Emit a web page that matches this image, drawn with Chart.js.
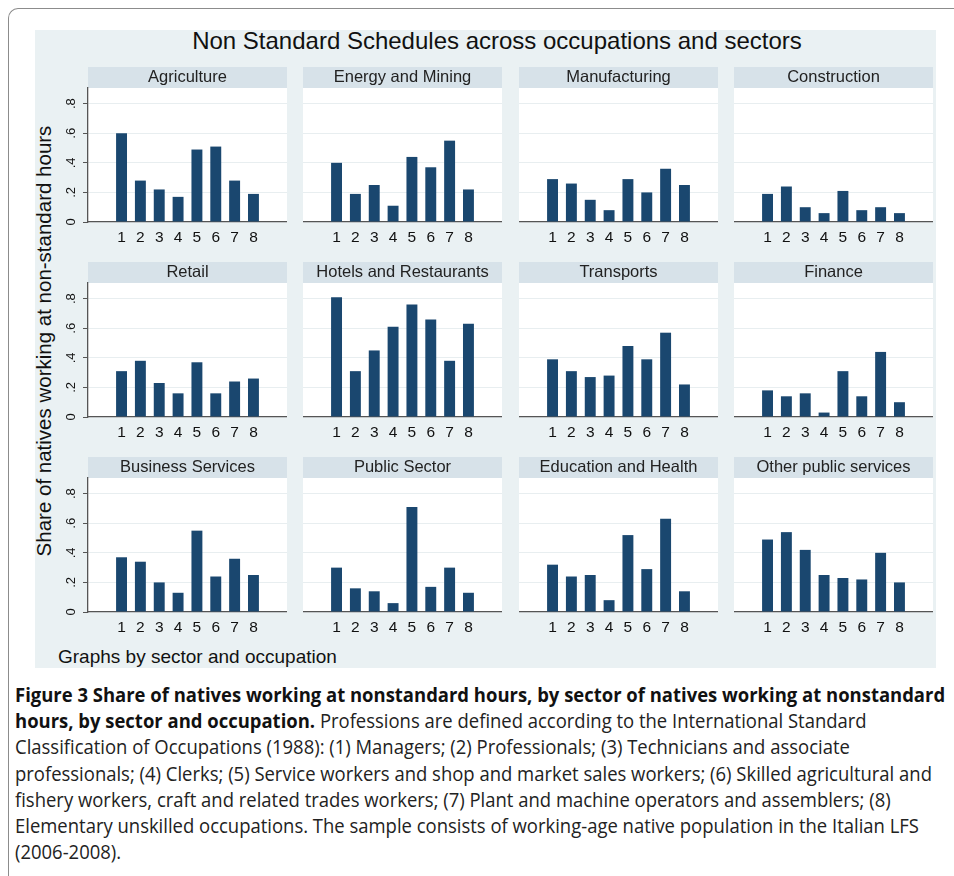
<!DOCTYPE html>
<html>
<head>
<meta charset="utf-8">
<script src="https://cdn.jsdelivr.net/npm/chart.js@4.4.1/dist/chart.umd.min.js"></script>
<style>
  body { margin: 0; background: #fff; width: 954px; height: 876px; position: relative; overflow: hidden;
         font-family: "Liberation Sans", Arial, sans-serif; }
  #frame { position: absolute; left: 8px; top: 8px; width: 960px; height: 880px;
           border-left: 1.5px solid #8c8c8c; border-top: 1.5px solid #8c8c8c; border-top-left-radius: 10px; }
  #graph { position: absolute; left: 35px; top: 30px; width: 901px; height: 638px; background: #eaf1f3; }
  #title { position: absolute; left: 0; width: 994px; top: 27px; text-align: center; font-size: 24px; line-height: 28px; color: #111; }
  #ytitle { position: absolute; left: -206px; width: 500px; top: 329px; text-align: center; font-size: 20.5px; line-height: 24px;
            color: #111; transform: rotate(-90deg); }
  #note { position: absolute; left: 58px; top: 646px; font-size: 19px; line-height: 22px; color: #111; }
  #caption { position: absolute; left: 15px; top: 682px; font-family: "Open Sans", sans-serif;
             font-size: 20px; line-height: 26.2px; color: #222; white-space: nowrap;
             transform: scaleX(0.923); transform-origin: 0 0; }
  #caption b { color: #111; }
  .panel { position: absolute; height: 181px; }
</style>
</head>
<body>
<div id="frame"></div>
<div id="graph"></div>
<div id="title">Non Standard Schedules across occupations and sectors</div>
<div id="ytitle">Share of natives working at non-standard hours</div>
<div id="note">Graphs by sector and occupation</div>
<div id="caption">
<b>Figure 3 Share of natives working at nonstandard hours, by sector of natives working at nonstandard</b><br>
<b>hours, by sector and occupation.</b> Professions are defined according to the International Standard<br>
Classification of Occupations (1988): (1) Managers; (2) Professionals; (3) Technicians and associate<br>
professionals; (4) Clerks; (5) Service workers and shop and market sales workers; (6) Skilled agricultural and<br>
fishery workers, craft and related trades workers; (7) Plant and machine operators and assemblers; (8)<br>
Elementary unskilled occupations. The sample consists of working-age native population in the Italian LFS<br>
(2006-2008).
</div>
<script>
// occupation codes on the x axis and y tick labels (Stata style)
const occupations = [1, 2, 3, 4, 5, 6, 7, 8];
const yTicks = [0, 0.2, 0.4, 0.6, 0.8];
const yTickLabels = ['0', '.2', '.4', '.6', '.8'];

const sectors = ['Agriculture', 'Energy and Mining', 'Manufacturing', 'Construction',
                 'Retail', 'Hotels and Restaurants', 'Transports', 'Finance',
                 'Business Services', 'Public Sector', 'Education and Health', 'Other public services'];

// share of natives working at non-standard hours, occupations 1..8
const agriculture   = [0.60, 0.28, 0.22, 0.17, 0.49, 0.51, 0.28, 0.19];
const energyMining  = [0.40, 0.19, 0.25, 0.11, 0.44, 0.37, 0.55, 0.22];
const manufacturing = [0.29, 0.26, 0.15, 0.08, 0.29, 0.20, 0.36, 0.25];
const construction  = [0.19, 0.24, 0.10, 0.06, 0.21, 0.08, 0.10, 0.06];
const retail        = [0.31, 0.38, 0.23, 0.16, 0.37, 0.16, 0.24, 0.26];
const hotels        = [0.81, 0.31, 0.45, 0.61, 0.76, 0.66, 0.38, 0.63];
const transports    = [0.39, 0.31, 0.27, 0.28, 0.48, 0.39, 0.57, 0.22];
const finance       = [0.18, 0.14, 0.16, 0.03, 0.31, 0.14, 0.44, 0.10];
const business      = [0.37, 0.34, 0.20, 0.13, 0.55, 0.24, 0.36, 0.25];
const publicSector  = [0.30, 0.16, 0.14, 0.06, 0.71, 0.17, 0.30, 0.13];
const eduHealth     = [0.32, 0.24, 0.25, 0.08, 0.52, 0.29, 0.63, 0.14];
const otherPublic   = [0.49, 0.54, 0.42, 0.25, 0.23, 0.22, 0.40, 0.20];

const sectorValues = [agriculture, energyMining, manufacturing, construction,
                      retail, hotels, transports, finance,
                      business, publicSector, eduHealth, otherPublic];

const font = 'Liberation Sans, Arial, sans-serif';

// white plot region and the grey strip behind each panel title
const panelBackground = {
    id: 'panelBackground',
    beforeDraw(chart) {
        const a = chart.chartArea;
        const ctx = chart.ctx;
        ctx.save();
        ctx.fillStyle = '#ffffff';
        ctx.fillRect(a.left, a.top, a.right - a.left, a.bottom - a.top);
        ctx.fillStyle = '#d7e2e9';
        ctx.fillRect(a.left, 0, a.right - a.left, a.top);
        ctx.restore();
    }
};

sectors.forEach(function (name, i) {
    const col = i % 4;
    const row = Math.floor(i / 4);
    const first = col === 0;
    const yw = first ? 40 : 0;

    const box = document.createElement('div');
    box.className = 'panel';
    box.style.left = (88 + col * 215.3 - yw) + 'px';
    box.style.top = (67 + row * 195) + 'px';
    box.style.width = (199 + yw) + 'px';
    const canvas = document.createElement('canvas');
    box.appendChild(canvas);
    document.body.appendChild(box);

    new Chart(canvas, {
        type: 'bar',
        data: {
            datasets: [{
                data: sectorValues[i].map((v, k) => ({ x: occupations[k], y: v })),
                backgroundColor: '#1a476f',
                borderWidth: 0,
                barPercentage: 0.58,
                categoryPercentage: 1
            }]
        },
        options: {
            responsive: true,
            maintainAspectRatio: false,
            animation: false,
            layout: { padding: 0 },
            plugins: {
                legend: { display: false },
                tooltip: { enabled: false },
                title: {
                    display: true,
                    text: name,
                    fullSize: false,
                    padding: 0,
                    color: '#222',
                    font: { family: font, size: 16.5, weight: 'normal', lineHeight: '21px' }
                }
            },
            scales: {
                x: {
                    type: 'linear',
                    min: -0.12,
                    max: 9.12,
                    afterBuildTicks: s => { s.ticks = occupations.map(v => ({ value: v })); },
                    afterFit: s => { s.height = 26; },
                    grid: { display: false, drawTicks: false },
                    border: { color: '#555', width: 1.3 },
                    ticks: { padding: 6, color: '#111', font: { family: font, size: 15.5 } }
                },
                y: {
                    min: 0,
                    max: 0.906,
                    afterBuildTicks: s => { s.ticks = yTicks.map(v => ({ value: v })); },
                    afterFit: s => { s.width = yw; },
                    grid: { color: '#e8eef0', drawTicks: first, tickLength: 5, tickColor: '#555' },
                    border: { display: first, color: '#555', width: 1.3 },
                    ticks: {
                        display: first,
                        minRotation: 90,
                        maxRotation: 90,
                        padding: 6,
                        crossAlign: 'center',
                        color: '#111',
                        font: { family: font, size: 13 },
                        callback: (v, idx) => yTickLabels[idx]
                    }
                }
            }
        },
        plugins: [panelBackground]
    });
});
</script>
</body>
</html>
